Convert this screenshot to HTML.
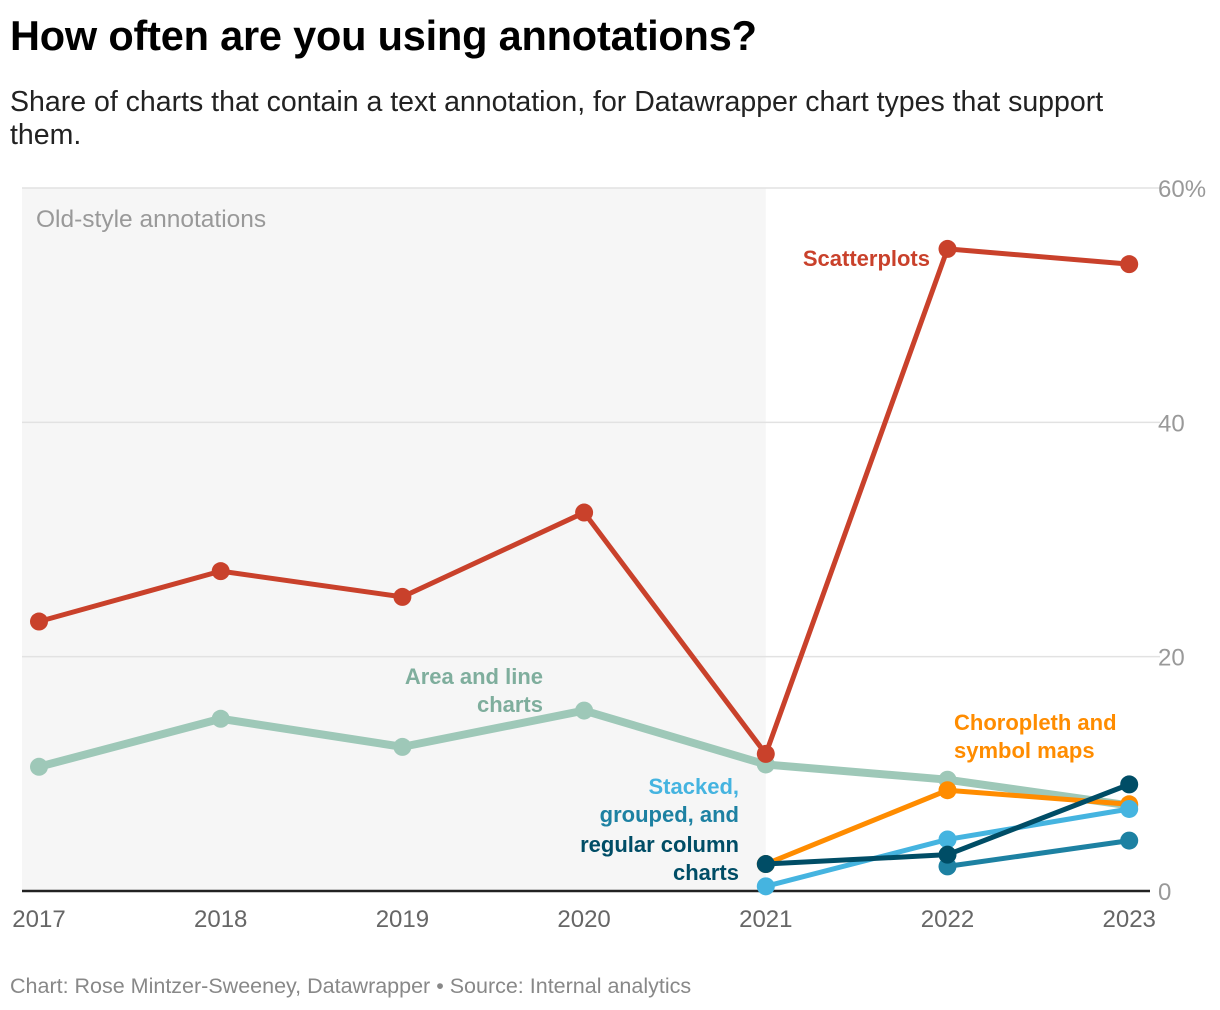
<!DOCTYPE html>
<html><head><meta charset="utf-8"><style>
body{margin:0;background:#fff;font-family:"Liberation Sans",Arial,sans-serif;}
#wrap{position:relative;width:1220px;height:1010px;overflow:hidden}
h1{position:absolute;left:10px;top:12px;margin:0;font-size:41.5px;font-weight:bold;color:#000;letter-spacing:-0.2px}
.sub{position:absolute;left:10px;top:86px;font-size:28.5px;line-height:33px;color:#222;width:1170px}
.foot{position:absolute;left:10px;top:974px;font-size:21.5px;color:#888}
</style></head><body>
<div id="wrap">
<h1>How often are you using annotations?</h1>
<div class="sub">Share of charts that contain a text annotation, for Datawrapper chart types that support them.</div>
<svg id="chart" width="1220" height="1010" style="position:absolute;left:0;top:0"></svg>
<div class="foot">Chart: Rose Mintzer-Sweeney, Datawrapper • Source: Internal analytics</div>
</div>
<script>
const years=[2017,2018,2019,2020,2021,2022,2023];
const yTicks=[0,20,40,60];
const yTickLabels=["0","20","40","60%"];
const scatter=[23.0,27.3,25.1,32.3,11.7,54.8,53.5];
const areaLine=[10.6,14.7,12.3,15.4,10.8,9.5,7.3];
const choropleth=[null,null,null,null,2.3,8.6,7.4];
const stacked=[null,null,null,null,0.4,4.4,7.0];
const grouped=[null,null,null,null,null,2.1,4.3];
const regular=[null,null,null,null,2.3,3.1,9.1];
const NS="http://www.w3.org/2000/svg";
const svg=document.getElementById('chart');
const x=i=>39+i*181.7;
const y=v=>891-v*(703/60);
function mk(t,a){const e=document.createElementNS(NS,t);for(const k in a)e.setAttribute(k,a[k]);svg.appendChild(e);return e;}
const bg=mk('rect',{x:22,y:y(60),width:x(4)-22,height:y(0)-y(60),fill:'#f6f6f6'});


yTicks.forEach((t,i)=>{
 if(t>0){const g=mk('line',{x1:22,x2:1160,y1:y(t),y2:y(t),stroke:'#e2e2e2','stroke-width':1.5});
 
 }
 const l=mk('text',{x:1158,y:y(t)+9,'font-size':24,fill:'#999'});l.textContent=yTickLabels[i];
 
 
});
const base=mk('line',{x1:22,x2:1150,y1:y(0),y2:y(0),stroke:'#222','stroke-width':2.5});


years.forEach((yr,i)=>{const t=mk('text',{x:x(i),y:927,'font-size':24,fill:'#666','text-anchor':'middle'});t.textContent=yr;
 
 });
const ann=mk('text',{x:36,y:227,'font-size':24.5,fill:'#999'});ann.textContent='Old-style annotations';


function series(data,color,w,r,name){
 const pts=[];data.forEach((v,i)=>{if(v!==null)pts.push([x(i),y(v)]);});
 const p=mk('polyline',{points:pts.map(p=>p.join(',')).join(' '),fill:'none',stroke:color,'stroke-width':w,'stroke-linejoin':'round'});
 
 
 pts.forEach(q=>{const c=mk('circle',{cx:q[0],cy:q[1],r:r,fill:color});
  
  });
}
series(areaLine,'#9ec8b8',8,9,'area-line');
series(choropleth,'#ff8c00',5,9,'choropleth');
series(grouped,'#1d81a2',5,9,'grouped');
series(stacked,'#45b4e0',5,9,'stacked');
series(regular,'#004d66',5,9,'regular');
series(scatter,'#c9412b',5,9,'scatter');
function lab(lines,xx,yy,color,anchor,name){lines.forEach((s,i)=>{const t=mk('text',{x:xx,y:yy+i*28,'font-size':22,'font-weight':'bold',fill:color,'text-anchor':anchor});t.textContent=s;
 
 });}
lab(['Scatterplots'],930,266,'#c9412b','end','scatterplots-label');
lab(['Area and line','charts'],543,684,'#7fae9d','end','area-line-label');
lab(['Choropleth and','symbol maps'],954,730,'#ff8c00','start','choropleth-label');
lab(['Stacked,'],739,794,'#45b4e0','end','stacked-label');
lab(['grouped, and'],739,822,'#1d81a2','end','grouped-label');
lab(['regular column','charts'],739,852,'#004d66','end','regular-label');
</script>
</body></html>
